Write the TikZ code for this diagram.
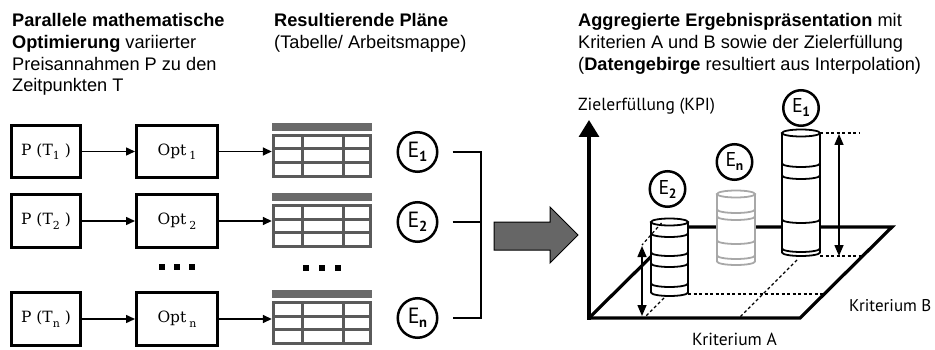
\documentclass[tikz,border=0pt]{standalone}
\usepackage{fontspec}
\setmainfont{Liberation Sans}
\newfontfamily\ptsans{PT Sans}
\newfontfamily\serifP{DejaVu Serif}
\usetikzlibrary{arrows.meta}
\definecolor{tabgray}{HTML}{5A5A5A}
\definecolor{tabhgray}{HTML}{6A6A6A}
\definecolor{arrgray}{HTML}{666666}
\definecolor{cylgray}{HTML}{A8A8A8}
\newcommand\sbs[1]{\raisebox{-4.5pt}{\fontsize{11}{11}\selectfont #1}}
\newcommand\Esub[1]{{\fontsize{22}{22}\selectfont E}\hspace{-0.5pt}\raisebox{-4.5pt}{\fontsize{14.5}{14.5}\selectfont\bfseries #1}}
\newcommand\Esubs[1]{{\fontsize{20}{20}\selectfont E}\hspace{-0.5pt}\raisebox{-4pt}{\fontsize{13.5}{13.5}\selectfont\bfseries #1}}
\newcommand\mytable[2]{%
  \node[tabnode] (#1) at (322,#2+27.5) {};
  \fill[tabhgray] (272,#2) rectangle (372,#2+8);
  \draw[tabline] (273.5,#2+12.5) rectangle (370.5,#2+53.5)
     (302,#2+12.5) -- (302,#2+53.5) (343,#2+12.5) -- (343,#2+53.5)
     (273.5,#2+26) -- (370.5,#2+26) (273.5,#2+39.5) -- (370.5,#2+39.5);
}
\newcommand\mycyl[6]{%
  \begin{scope}[#6]
  \filldraw[fill=white] (#1-#2,#3) -- (#1-#2,#4) arc[start angle=180,end angle=0,x radius=#2,y radius=3.5] -- (#1+#2,#3);
  \filldraw[fill=white] (#1,#3) ellipse[x radius=#2, y radius=3.5];
  \foreach \sy in {#5} \draw (#1-#2,\sy) arc[start angle=180,end angle=0,x radius=#2,y radius=3.5];
  \end{scope}}
\tikzset{
  pbox/.style={draw, line width=3.2pt, minimum width=69pt, minimum height=52.5pt, inner sep=0pt, font=\serifP\fontsize{15.5}{15.5}\selectfont},
  obox/.style={pbox, minimum width=80.8pt},
  tabnode/.style={minimum width=100pt, minimum height=55pt, inner sep=0pt},
  tabline/.style={draw=tabgray, line width=3pt},
  ecirc/.style={circle, draw, line width=2.5pt, minimum size=39.5pt, inner sep=0pt, font=\ptsans},
  scirc/.style={circle, draw, line width=2.5pt, minimum size=35.5pt, inner sep=0pt, font=\ptsans},
  flowarr/.style={line width=1.5pt, -{Triangle[width=8pt,length=9pt]}},
  brk/.style={line width=1.5pt},
  ttl/.style={anchor=base west, inner sep=0pt, font=\fontsize{18.2}{21.7}\selectfont},
  lab/.style={anchor=base west, inner sep=0pt, font=\ptsans\fontsize{17.5}{17.5}\selectfont},
  edge3d/.style={line width=3.2pt},
  dsh/.style={line width=1.2pt, dash pattern=on 3pt off 2.5pt},
  measure/.style={line width=1.5pt, {Triangle[width=9pt,length=11pt]}-{Triangle[width=9pt,length=11pt]}},
  cyl/.style={line width=1.8pt, draw=black},
  cylg/.style={line width=1.8pt, draw=cylgray},
}
\begin{document}
\begin{tikzpicture}[x=1pt,y=-1pt]
\useasboundingbox (0,0) rectangle (935,350);
% titles
\node[ttl] (l1) at (12,27) {\textbf{Parallele mathematische}};
\node[ttl] (l2) at (12,49) {\textbf{Optimierung} variierter};
\node[ttl] (l3) at (12,70.5) {Preisannahmen P zu den};
\node[ttl] (l4) at (12,92) {Zeitpunkten T};
\node[ttl] (m1) at (274,27) {\textbf{Resultierende Pläne}};
\node[ttl] (m2) at (274,49) {(Tabelle/ Arbeitsmappe)};
\node[ttl] (r1) at (578,27) {\textbf{Aggregierte Ergebnispräsentation} mit};
\node[ttl] (r2) at (578,49) {Kriterien A und B sowie der Zielerfüllung};
\node[ttl] (r3) at (578,70.5) {(\textbf{Datengebirge} resultiert aus Interpolation)};
% P and Opt boxes
\node[pbox] (p1) at (46,151.5) {P (T\sbs{1} )};
\node[pbox] (p2) at (46,221) {P (T\sbs{2} )};
\node[pbox] (p3) at (46,319) {P (T\sbs{n} )};
\node[obox] (o1) at (177,151.5) {Opt\hspace{3pt}\sbs{1}};
\node[obox] (o2) at (177,221) {Opt\hspace{3pt}\sbs{2}};
\node[obox] (o3) at (177,319) {Opt\hspace{3pt}\sbs{n}};
\foreach \i in {1,2,3} \draw[flowarr] (p\i.east) -- (o\i.west);
% dots
\foreach \dx in {158.5,173.5,188.5} \fill (\dx,264) rectangle +(6,6);
\foreach \dx in {302.5,319,334.5} \fill (\dx,264.5) rectangle +(6,6);
% tables
\mytable{t1}{123}
\mytable{t2}{193}
\mytable{t3}{290}
\foreach \i in {1,2,3} \draw[flowarr] (o\i.east) -- (o\i.east -| t\i.west);
% E circles
\node[ecirc] (e1) at (417.5,152) {\Esub{1}};
\node[ecirc] (e2) at (417.5,222) {\Esub{2}};
\node[ecirc] (e3) at (417.5,318) {\Esub{n}};
\coordinate (b1) at (481,152);
\coordinate (b3) at (481,318);
\draw[brk] ([xshift=14pt]e1.east) -- (b1) -- (b3) -- ([xshift=14pt]e3.east);
\draw[brk] ([xshift=14pt]e2.east) -- (b1 |- e2);
% big arrow
\filldraw[fill=arrgray, line width=1pt] (494,222) -- (550,222) -- (550,207) -- (578,235) -- (550,263) -- (550,250) -- (494,250) -- cycle;
% 3D plane
\coordinate (orig) at (589,318);
\coordinate (ztop) at (589,120);
\coordinate (fr) at (800,318);
\coordinate (br) at (892,227);
\coordinate (bl) at (681,227);
\draw[edge3d, line join=miter] (bl) -- (br) -- (fr) -- ([xshift=-1.5pt]orig);
\draw[edge3d] (orig) -- (bl);
\draw[line width=3.2pt, -{Triangle[width=20pt,length=17pt]}] ([yshift=-1.5pt]orig) -- (ztop);
% dashed projections
\draw[dsh] (688,294) -- (823.5,294);
\draw[dsh] (797,260) -- (739,318);
\draw[dsh] (664,298) -- (644,318);
\draw[dsh] (820,133) -- (860,133);
\draw[dsh] (820,256) -- (862,256);
% cylinders
\mycyl{669.5}{18.5}{222}{292.5}{233.5,252.5,263.5,283.5}{cyl}
\mycyl{736}{19}{194}{261.5}{209.5,216.5,240.5,255.5}{cylg}
\mycyl{801}{19}{133}{252.5}{163.5,175.5,219.5,248.5}{cyl}
\draw[dsh] (661.5,223) -- (642,245);
% measures
\coordinate (m1t) at (839,134);
\coordinate (m1b) at (839,256);
\coordinate (m2t) at (642,246);
\coordinate (m2b) at (642,316);
\draw[measure] (m1t) -- (m1b);
\draw[measure] (m2t) -- (m2b);
% 3D circles
\node[scirc] (c1) at (801,108) {\Esubs{1}};
\node[scirc] (cn) at (734.5,162) {\Esubs{n}};
\node[scirc] (c2) at (667.5,189) {\Esubs{2}};
% axis labels
\node[lab] (zl) at (578,111) {Zielerfüllung (KPI)};
\node[lab, font=\ptsans\fontsize{17}{17}\selectfont] (kb) at (849,311) {Kriterium B};
\node[lab] (ka) at (692,345) {Kriterium A};
\end{tikzpicture}
\end{document}
